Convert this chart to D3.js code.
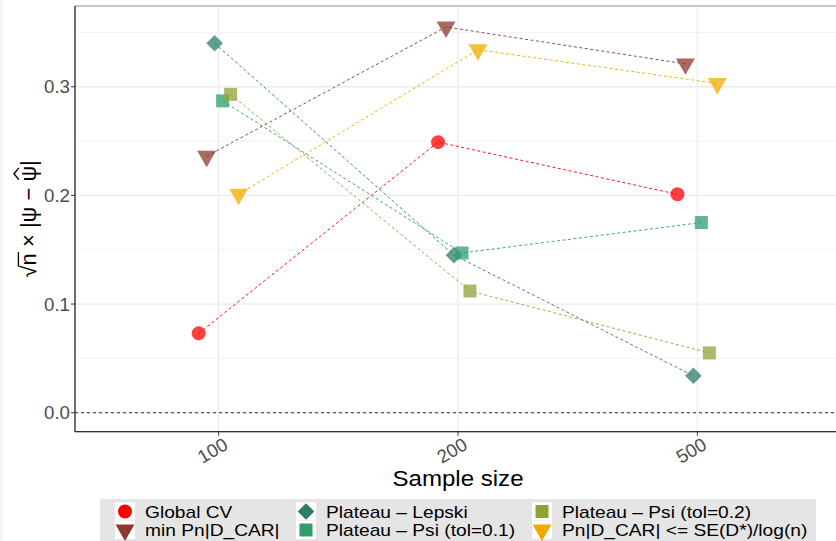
<!DOCTYPE html>
<html>
<head>
<meta charset="utf-8">
<script src="https://cdn.jsdelivr.net/npm/d3@7"></script>
<style>
  body { margin: 0; background: white; }
  text { font-family: "Liberation Sans", Arial, sans-serif; }
</style>
</head>
<body>
<div id="canvas"></div>
<script>
"use strict"

let svgWidth = 836;
let svgHeight = 541;

/* Data : sample sizes, methods and the value of each method */
let sampleSizes = ["100", "200", "500"];
let methods = ["Global CV", "min Pn|D_CAR|", "Plateau \u2013 Lepski",
    "Plateau \u2013 Psi (tol=0.1)", "Plateau \u2013 Psi (tol=0.2)",
    "Pn|D_CAR| <= SE(D*)/log(n)"];
let globalCV = [0.073, 0.249, 0.201];
let minPn = [0.236, 0.355, 0.321];
let lepski = [0.340, 0.145, 0.034];
let psiTol01 = [0.287, 0.147, 0.175];
let psiTol02 = [0.293, 0.112, 0.055];
let pnSE = [0.201, 0.334, 0.303];
let yTicks = [0.0, 0.1, 0.2, 0.3];
let yMinor = [0.05, 0.15, 0.25, 0.35];

let seriesValues = [globalCV, minPn, lepski, psiTol01, psiTol02, pnSE];
let colors = ["#ff0000", "#8b3a2e", "#2e7d6b", "#2e9e6e", "#8ea335", "#f2a900"];
let shapes = ["circle", "triangle", "diamond", "square", "square", "triangle"];

let dataset = [];
methods.forEach(function(m, i) {
    sampleSizes.forEach(function(n, j) {
        dataset.push({method: m, idx: i, n: n, value: seriesValues[i][j]});
    });
});

let svg = d3.select("#canvas")
    .append("svg")
    .attr("width", svgWidth)
    .attr("height", svgHeight);

/* faint strip at left edge */
svg.append("rect")
    .attr("x", 0).attr("y", 0)
    .attr("width", 3).attr("height", svgHeight)
    .attr("fill", "#f4f4f4");

/* panel : runs past the right edge of the picture */
let panelLeft = 75, panelRight = 841, panelTop = 6, panelBottom = 431.7;

let xScale = d3.scalePoint()
    .domain(sampleSizes)
    .range([panelLeft, panelRight])
    .padding(0.6);

let yScale = d3.scaleLinear()
    .domain([-0.0175, 0.3743])
    .range([panelBottom, panelTop]);

/* dodge of the six methods */
let dodgeWidth = 0.2;
function xPos(d) {
    let off = (d.idx - (methods.length - 1) / 2) * xScale.step() * dodgeWidth / methods.length;
    return xScale(d.n) + off;
}

/* Grid lines */
svg.selectAll("line.minor")
    .data(yMinor)
    .join("line")
    .attr("class", "minor")
    .attr("x1", panelLeft).attr("x2", panelRight)
    .attr("y1", d => yScale(d)).attr("y2", d => yScale(d))
    .attr("stroke", "#ececec")
    .attr("stroke-width", 0.7);

svg.selectAll("line.major")
    .data(yTicks)
    .join("line")
    .attr("class", "major")
    .attr("x1", panelLeft).attr("x2", panelRight)
    .attr("y1", d => yScale(d)).attr("y2", d => yScale(d))
    .attr("stroke", "#ebebeb")
    .attr("stroke-width", 1.3);

svg.selectAll("line.vgrid")
    .data(sampleSizes)
    .join("line")
    .attr("class", "vgrid")
    .attr("x1", d => xScale(d)).attr("x2", d => xScale(d))
    .attr("y1", panelTop).attr("y2", panelBottom)
    .attr("stroke", "#ebebeb")
    .attr("stroke-width", 1.3);

/* reference line at zero */
svg.append("line")
    .attr("x1", panelLeft).attr("x2", panelRight)
    .attr("y1", yScale(0)).attr("y2", yScale(0))
    .attr("stroke", "#555555")
    .attr("stroke-width", 1.3)
    .attr("stroke-dasharray", "3,3");

/* Lines per method */
let line = d3.line()
    .x(d => xPos(d))
    .y(d => yScale(d.value));

methods.forEach(function(m, i) {
    svg.append("path")
        .datum(dataset.filter(d => d.idx === i))
        .attr("d", line)
        .attr("fill", "none")
        .attr("stroke", colors[i])
        .attr("stroke-width", 1)
        .attr("stroke-dasharray", "3,2.5")
        .attr("opacity", 0.9);
});

/* point shapes */
function symbolPath(shape) {
    if (shape === "circle") return d3.symbol(d3.symbolCircle, 154)();
    if (shape === "square") return d3.symbol(d3.symbolSquare, 169)();
    if (shape === "diamond") return d3.symbol(d3.symbolSquare, 139)();
    return d3.symbol(d3.symbolTriangle, 156)();
}
function symbolRotate(shape) {
    if (shape === "diamond") return 45;
    if (shape === "triangle") return 180;
    return 0;
}

svg.selectAll("path.dataPoint")
    .data(dataset)
    .join("path")
    .attr("class", "dataPoint")
    .attr("d", d => symbolPath(shapes[d.idx]))
    .attr("transform", d => "translate(" + xPos(d) + "," + yScale(d.value) + ") rotate(" + symbolRotate(shapes[d.idx]) + ")")
    .attr("fill", d => colors[d.idx])
    .attr("opacity", 0.75);

/* Panel border and axis lines */
svg.append("rect")
    .attr("x", panelLeft).attr("y", panelTop)
    .attr("width", panelRight - panelLeft)
    .attr("height", panelBottom - panelTop)
    .attr("fill", "none")
    .attr("stroke", "#8f8f8f")
    .attr("stroke-width", 1);

svg.append("line")
    .attr("x1", panelLeft).attr("x2", panelLeft)
    .attr("y1", panelTop).attr("y2", panelBottom)
    .attr("stroke", "#333333").attr("stroke-width", 1.2);
svg.append("line")
    .attr("x1", panelLeft).attr("x2", panelRight)
    .attr("y1", panelBottom).attr("y2", panelBottom)
    .attr("stroke", "#333333").attr("stroke-width", 1.2);

/* Y axis ticks and labels */
yTicks.forEach(function(t) {
    svg.append("line")
        .attr("x1", panelLeft - 4).attr("x2", panelLeft)
        .attr("y1", yScale(t)).attr("y2", yScale(t))
        .attr("stroke", "#333333");
    svg.append("text")
        .attr("x", panelLeft - 5)
        .attr("y", yScale(t) + 6.7)
        .attr("text-anchor", "end")
        .attr("font-size", "18.7px")
        .attr("fill", "#4d4d4d")
        .text(t.toFixed(1));
});

/* X axis ticks and rotated labels */
sampleSizes.forEach(function(n) {
    svg.append("line")
        .attr("x1", xScale(n)).attr("x2", xScale(n))
        .attr("y1", panelBottom).attr("y2", panelBottom + 4)
        .attr("stroke", "#333333");
    svg.append("text")
        .attr("transform", "translate(" + (xScale(n) + 4) + "," + (panelBottom + 5) + ") rotate(-30)")
        .attr("text-anchor", "end")
        .attr("dy", "0.72em")
        .attr("font-size", "18.7px")
        .attr("fill", "#4d4d4d")
        .text(n);
});

/* X axis title */
svg.append("text")
    .attr("transform", "translate(" + ((panelLeft + panelRight) / 2) + ",486) scale(1.12,1)")
    .attr("text-anchor", "middle")
    .attr("font-size", "21.5px")
    .attr("fill", "black")
    .text("Sample size");

/* Y axis title : sqrt(n) x |psi - psi hat| */
let titleSize = 22;
let yTitle = svg.append("g")
    .attr("transform", "translate(36," + ((panelTop + panelBottom) / 2) + ") rotate(-90)");
let yText = yTitle.append("text")
    .attr("font-size", titleSize + "px")
    .attr("fill", "black");
let parts = ["\u221a", "n", " \u00d7 |\u03c8 \u2212 ", "\u03c8", "|"];
parts.forEach(function(p) { yText.append("tspan").text(p); });

let node = yText.node();
let full = parts.join("");
let total = node.getComputedTextLength();
let x0 = -total / 2;
yText.attr("x", x0);
let nStart = x0 + node.getSubStringLength(0, 1);
let nEnd = x0 + node.getSubStringLength(0, 2);
let psiStart = x0 + node.getSubStringLength(0, full.length - 2);
let psiEnd = x0 + node.getSubStringLength(0, full.length - 1);

/* bar over n */
yTitle.append("line")
    .attr("x1", nStart - 1).attr("x2", nEnd + 1)
    .attr("y1", -titleSize * 0.8).attr("y2", -titleSize * 0.8)
    .attr("stroke", "black").attr("stroke-width", 1.3);

/* hat over psi */
let psiMid = (psiStart + psiEnd) / 2;
yTitle.append("path")
    .attr("d", "M" + (psiStart + 2) + "," + (-titleSize * 0.78) +
        "L" + psiMid + "," + (-titleSize * 1.0) +
        "L" + (psiEnd - 2) + "," + (-titleSize * 0.78))
    .attr("fill", "none")
    .attr("stroke", "black")
    .attr("stroke-width", 1.4);

/* Legend */
svg.append("rect")
    .attr("x", 100).attr("y", 499)
    .attr("width", 716).attr("height", 50)
    .attr("fill", "#e5e5e5");

let legendCols = [115, 296, 532];
let legendRows = [511.5, 530];

methods.forEach(function(m, i) {
    let kx = legendCols[Math.floor(i / 2)];
    let ky = legendRows[i % 2];
    svg.append("rect")
        .attr("x", kx).attr("y", ky - 9)
        .attr("width", 20).attr("height", 18)
        .attr("fill", "white");
    svg.append("path")
        .attr("d", symbolPath(shapes[i]))
        .attr("transform", "translate(" + (kx + 10) + "," + ky + ") rotate(" + symbolRotate(shapes[i]) + ")")
        .attr("fill", colors[i]);
    svg.append("text")
        .attr("transform", "translate(" + (kx + 30) + "," + (ky + 6) + ") scale(1.17,1)")
        .attr("font-size", "16.4px")
        .attr("fill", "black")
        .text(m);
});
</script>
</body>
</html>
